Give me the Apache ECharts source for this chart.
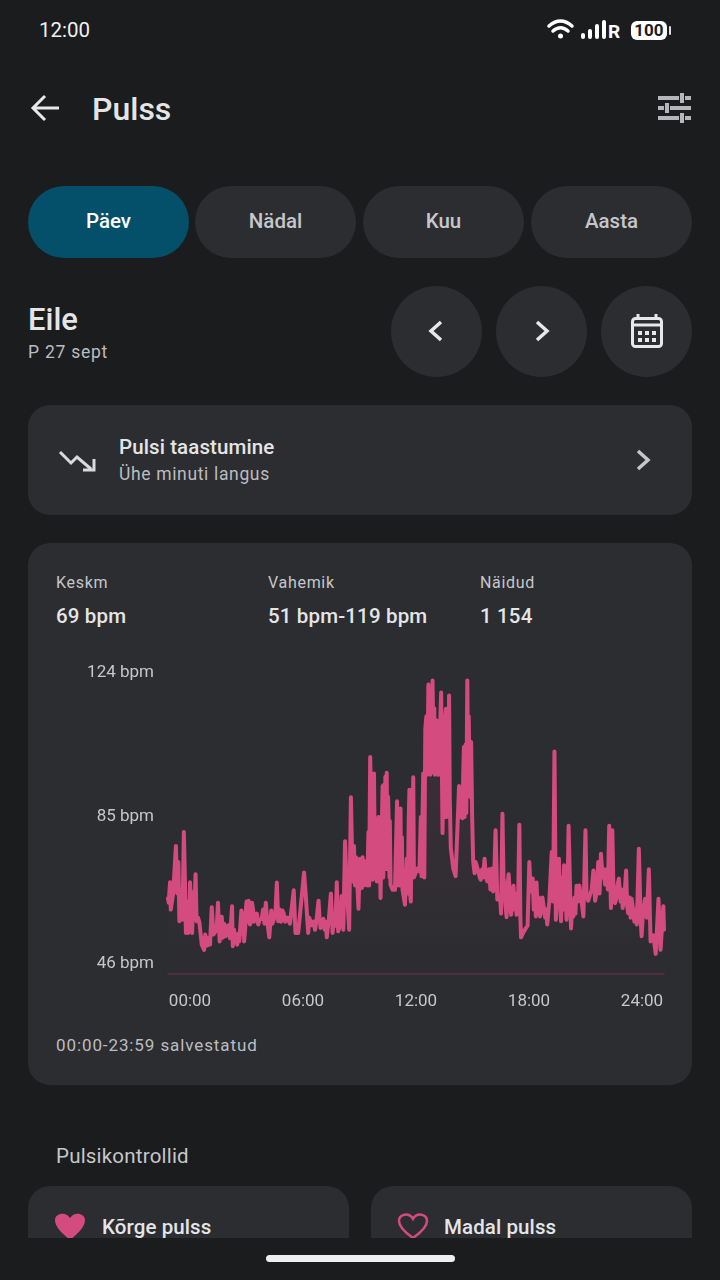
<!DOCTYPE html>
<html>
<head>
<meta charset="utf-8">
<title>Pulss</title>
<script src="https://cdn.jsdelivr.net/npm/echarts@6/dist/echarts.min.js"></script>
<style>
html,body{margin:0;padding:0;background:#1b1c1e;}
#page{position:relative;width:720px;height:1280px;overflow:hidden;background:#1b1c1e;font-family:Roboto,sans-serif;color:#e4e5e7;}
#page div.t{position:absolute;white-space:nowrap;line-height:1;transform:translateY(-50%);}
.box{position:absolute;background:#2c2d31;}
.m{font-weight:500;}
svg{position:absolute;overflow:visible;}
#chart{position:absolute;left:28px;top:640px;width:664px;height:385px;}
</style>
</head>
<body>
<div id="page">
  <div class="t" style="left:39px;top:30px;font-size:20.500px;color:#f0f0f0">12:00</div>
  <svg style="left:0;top:0" width="720" height="60">
    <path d="M549 26 q11.500 -10 23 0 M553 31 q7.500 -6.500 15 0" fill="none" stroke="#fff" stroke-width="3.500" stroke-linecap="round"/>
    <circle cx="560.500" cy="36" r="2.500" fill="#fff"/>
    <g stroke="#fff" stroke-width="4" stroke-linecap="round"><line x1="583" y1="35" x2="583" y2="37"/><line x1="590" y1="31" x2="590" y2="37"/><line x1="597" y1="26" x2="597" y2="37"/><line x1="604" y1="22" x2="604" y2="37"/></g>
    <text x="608" y="38" font-size="19" font-weight="700" fill="#fff" font-family="Roboto">R</text>
    <rect x="631" y="21" width="36" height="19" rx="6" fill="#fff"/>
    <text x="649" y="36" text-anchor="middle" font-size="17" font-weight="700" fill="#1b1c1e" font-family="Roboto">100</text>
    <rect x="669" y="26" width="2" height="9" rx="1" fill="#ddd"/>
  </svg>

  <svg style="left:0;top:0" width="720" height="140">
    <path d="M59 108 H34 M45 96 L33 108 L45 120" fill="none" stroke="#e8e8ea" stroke-width="3"/>
    <g stroke="#b4b6ba" stroke-width="4" fill="none"><path d="M658 98 H679 M685 98 H691 M682 93 V103"/><path d="M658 108 H664 M670 108 H691 M667 103 V113"/><path d="M658 118 H679 M685 118 H691 M682 113 V123"/></g>
  </svg>
  <div class="t m" style="left:92px;top:108.500px;font-size:32px">Pulss</div>

  <div class="box" style="left:28px;top:186px;width:161px;height:72px;border-radius:36px;background:#044f69"></div>
  <div class="box" style="left:195px;top:186px;width:161px;height:72px;border-radius:36px"></div>
  <div class="box" style="left:363px;top:186px;width:161px;height:72px;border-radius:36px"></div>
  <div class="box" style="left:531px;top:186px;width:161px;height:72px;border-radius:36px"></div>
  <div class="t m" style="left:28px;width:161px;text-align:center;top:221px;font-size:20.500px;color:#fff">Päev</div>
  <div class="t m" style="left:195px;width:161px;text-align:center;top:221px;font-size:20.500px;color:#c6c7ca">Nädal</div>
  <div class="t m" style="left:363px;width:161px;text-align:center;top:221px;font-size:20.500px;color:#c6c7ca">Kuu</div>
  <div class="t m" style="left:531px;width:161px;text-align:center;top:221px;font-size:20.500px;color:#c6c7ca">Aasta</div>

  <div class="t m" style="left:28px;top:319px;font-size:31px">Eile</div>
  <div class="t" style="left:28px;top:352.500px;font-size:17.500px;letter-spacing:.75px;color:#bcbdc0">P 27 sept</div>

  <div class="box" style="left:391px;top:286px;width:91px;height:91px;border-radius:50%"></div>
  <div class="box" style="left:496px;top:286px;width:91px;height:91px;border-radius:50%"></div>
  <div class="box" style="left:601px;top:286px;width:91px;height:91px;border-radius:50%"></div>
  <svg style="left:0;top:0" width="720" height="400">
    <path d="M441 322 L431 331 L441 340" fill="none" stroke="#e8e8ea" stroke-width="3.500"/>
    <path d="M537 322 L547 331 L537 340" fill="none" stroke="#e8e8ea" stroke-width="3.500"/>
    <rect x="632.500" y="318.500" width="29" height="28" rx="3" fill="none" stroke="#e8e8ea" stroke-width="3"/>
    <path d="M632 325 H662" stroke="#e8e8ea" stroke-width="3"/>
    <path d="M638 314 V319 M656 314 V319" stroke="#e8e8ea" stroke-width="3"/>
    <g fill="#e8e8ea"><rect x="638" y="331" width="4" height="4"/><rect x="645" y="331" width="4" height="4"/><rect x="652" y="331" width="4" height="4"/><rect x="638" y="338" width="4" height="4"/><rect x="645" y="338" width="4" height="4"/><rect x="652" y="338" width="4" height="4"/></g>
  </svg>

  <div class="box" style="left:28px;top:405px;width:664px;height:110px;border-radius:22px"></div>
  <svg style="left:0;top:0" width="720" height="520">
    <path d="M60 452 L71 463 L77 457 L91 469 M94 459 V470 H83" fill="none" stroke="#d9dadc" stroke-width="3"/>
    <path d="M638 451 L648 460 L638 469" fill="none" stroke="#c6c7ca" stroke-width="3.500"/>
  </svg>
  <div class="t m" style="left:119px;top:447px;font-size:20.500px;letter-spacing:.1px">Pulsi taastumine</div>
  <div class="t" style="left:119px;top:474.500px;font-size:17.500px;letter-spacing:.65px;color:#bcbdc0">Ühe minuti langus</div>

  <div class="box" style="left:28px;top:543px;width:664px;height:542px;border-radius:22px"></div>
  <div class="t" style="left:56px;top:582.500px;font-size:16px;letter-spacing:.7px;color:#c6c7ca">Keskm</div>
  <div class="t" style="left:268px;top:582.500px;font-size:16px;letter-spacing:.7px;color:#c6c7ca">Vahemik</div>
  <div class="t" style="left:480px;top:582.500px;font-size:16px;letter-spacing:.7px;color:#c6c7ca">Näidud</div>
  <div class="t m" style="left:56px;top:616px;font-size:20.500px;letter-spacing:.15px">69 bpm</div>
  <div class="t m" style="left:268px;top:616px;font-size:20.500px;letter-spacing:.15px">51 bpm-119 bpm</div>
  <div class="t m" style="left:480px;top:616px;font-size:20.500px;letter-spacing:.15px">1 154</div>
  <div id="chart"></div>
  <div class="t" style="left:56px;top:1045px;font-size:17px;letter-spacing:.9px;color:#bcbdc0">00:00-23:59 salvestatud</div>

  <div class="t" style="left:56px;top:1156px;font-size:20.500px;letter-spacing:.2px;color:#c6c7ca">Pulsikontrollid</div>
  <div class="box" style="left:28px;top:1186px;width:321px;height:52px;border-radius:22px 22px 0 0"></div>
  <div class="box" style="left:371px;top:1186px;width:321px;height:52px;border-radius:22px 22px 0 0"></div>
  <div class="t m" style="left:102px;top:1227px;font-size:20.500px;letter-spacing:.1px">Kõrge pulss</div>
  <div class="t m" style="left:444px;top:1227px;font-size:20.500px;letter-spacing:.1px">Madal pulss</div>
  <svg style="left:0;top:0;width:720px;height:1238px;clip-path:inset(0 0 0 0)" width="720" height="1238">
    <path d="M70 1240 C60 1232 55 1226 55 1220 C55 1213 66 1211 70 1218 C74 1211 85 1213 85 1220 C85 1226 80 1232 70 1240Z" fill="#d44b80"/>
    <path d="M413 1238 C403 1231 399 1226 399 1221 C399 1214 409 1212 413 1219 C417 1212 427 1214 427 1221 C427 1226 423 1231 413 1238Z" fill="none" stroke="#d44b80" stroke-width="2.500"/>
  </svg>
  <div class="box" style="left:266px;top:1255px;width:189px;height:7px;border-radius:4px;background:#eeeff1"></div>
</div>

<script>
var pulseMinutes=[0,2,6,8,15,23,27,30,33,36,40,42,46,49,52,55,59,62,64,70,74,77,80,83,87,91,98,105,108,112,114,118,122,127,132,137,142,145,150,156,159,163,168,172,175,180,186,188,192,195,201,204,207,213,216,219,221,224,226,228,231,234,236,238,241,244,247,250,254,258,262,266,272,276,280,284,288,294,300,303,308,312,316,320,324,328,332,336,340,343,347,354,365,370,378,383,395,400,407,410,417,422,427,432,437,440,443,447,451,455,458,461,467,473,478,483,486,490,494,499,502,504,509,514,519,526,531,536,540,543,546,548,550,553,557,560,563,565,568,570,572,575,578,580,582,584,587,594,598,601,603,606,611,613,615,617,623,625,627,629,631,633,635,637,639,641,643,644,646,652,659,665,668,670,672,673,675,677,679,681,688,693,696,699,701,703,705,707,709,712,714,717,724,730,734,736,741,744,747,750,752,753,756,758,761,763,765,768,771,773,775,777,780,782,785,787,789,791,793,797,800,802,805,807,809,811,813,816,818,821,828,835,845,847,850,853,855,857,859,861,864,866,869,871,873,875,877,880,883,886,890,893,897,901,905,908,912,915,919,923,927,932,936,940,944,947,951,956,964,967,971,974,976,980,983,986,989,993,996,999,1003,1006,1009,1012,1016,1020,1023,1025,1032,1039,1044,1049,1053,1059,1062,1065,1068,1070,1073,1076,1080,1084,1087,1090,1095,1098,1101,1107,1114,1118,1122,1126,1130,1135,1138,1141,1145,1147,1150,1153,1157,1160,1163,1170,1173,1177,1180,1183,1186,1190,1194,1198,1202,1206,1212,1215,1220,1225,1230,1235,1240,1244,1249,1253,1257,1262,1265,1269,1273,1277,1281,1284,1286,1290,1293,1298,1302,1305,1309,1314,1317,1320,1325,1330,1333,1336,1340,1343,1346,1350,1354,1358,1361,1367,1372,1375,1378,1381,1385,1390,1393,1396,1401,1409,1416,1424,1430,1438,1440];
var pulseBpm=[64.8,63.7,68.8,62,66,77.8,66,73.8,59.1,62,67.2,59.5,81.3,70,56.2,64,56.2,60,68.8,56.2,66.4,62,70.8,59.1,60,58.9,53.3,52,55.8,56,53.1,55,53.3,62.6,55.8,56.4,58,63.7,54.1,60.2,55,58.5,55.4,57,58.1,54.9,62.8,52.9,57,54.8,53.3,56,54.1,61.8,56,61,54.1,57,61.8,64,59,64.2,63,58.3,59,63.7,62,59,59.7,61,58.3,59.5,59.7,62,58.5,63.7,59.1,55.1,61.8,58.5,59.7,61,68.7,59.1,62,59,61.8,61,59,59.1,60,58.5,66.8,56.2,56.2,60.6,71.2,65.5,56.2,60,58.1,59,57,60,64.2,60,57.4,59,59.7,57,59,55.1,59.7,66,56.2,61,58,68.8,56.6,58,62,65.4,57,79,67.4,57,89.9,69,77.8,68,75,73,68,62.2,74.6,68,67.4,75,68,74,69.8,74,68,74,81.3,68,99.9,69.4,95.8,70,78,69,85,72,80,64.9,92.7,70,93,72,95,75,96,72,90,82.9,70,84,68.2,66.9,66.9,88.9,68,85,77.1,68,87.1,68,80,66.9,63.2,74.6,66,85,91.8,66,64,82,70,94.9,70,69.8,72.2,71.5,85,70.3,95.8,70,106.9,110,95.5,96,117.9,100,95.5,112,96,118.9,100,112,95.5,108,109,96,95.5,105,96,110,115.9,81,100,85,110,111.9,85,96,90,115.2,90,77.3,72.3,70.3,92.7,85,84.7,92,84.7,95,102.4,85,103,86,118.9,98,110,98.6,90,103.6,85,74,71,73.8,74,71.5,70,69.4,72,70,74.6,70,69,72,67,72.2,66.5,70,81.7,64.5,65.5,61,85.8,70,68.2,63,60.1,68,70.8,65,60.7,61,67.9,62,66,60.7,62,83.1,60,55.1,56.4,57.4,58,73.8,66.5,69.7,62,66,60.3,68.7,62,65,60.3,62,65,64.9,60,62,58.3,64,76.3,64,101.3,59.5,65,74.6,66,59.1,70,62,73,70,59.5,66,82.8,57.3,62,60.3,65,61,67.9,64,68,68.1,63,60.3,81.7,66,64.2,64,67,71.7,64.2,66,73.8,66,75.9,70,72,68.2,72,67,82.8,70,62.4,81.7,68,63.6,65,68,69.7,64,67,62.4,65,71.7,63,61.1,65,60,64.7,62,59,62,58.3,77.1,60,55.4,60,62,64.7,60,66,72,54.1,55.6,51,64.7,52,62.8,57];
var bpmTicks=[46,85,124];
var timeLabels=['00:00','06:00','12:00','18:00','24:00'];

var pulseData=[];
for(var i=0;i<pulseMinutes.length;i++){
	pulseData.push([pulseMinutes[i],pulseBpm[i]]);
}

// the app spreads the time labels evenly inside the plot, they do not sit on their real hours
var labelSlots=[];
for(var j=0;j<timeLabels.length;j++){
	labelSlots.push(1440*(22+j*113)/496);
}

var myChart=echarts.init(document.getElementById('chart'));
var option={
	animation:false,
	grid:{left:140,right:28,top:20,height:314},
	xAxis:{
		type:'value',
		min:0,
		max:1440,
		axisLine:{show:true,onZero:false,lineStyle:{color:'#5c2f45',width:1.5}},
		axisTick:{show:false},
		splitLine:{show:false},
		axisLabel:{
			customValues:labelSlots,
			margin:19,
			fontFamily:'Roboto',
			fontSize:17,
			color:'#c6c7ca',
			formatter:function(v){
				return timeLabels[labelSlots.indexOf(v)];
			}
		}
	},
	yAxis:{
		type:'value',
		min:bpmTicks[0],
		max:bpmTicks[2],
		interval:39,
		axisLine:{show:false},
		axisTick:{show:false},
		splitLine:{show:false},
		axisLabel:{
			margin:14,
			fontFamily:'Roboto',
			fontSize:17,
			lineHeight:20,
			padding:[3,0,0,0],
			color:'#c6c7ca',
			verticalAlignMinLabel:'bottom',
			verticalAlignMaxLabel:'top',
			formatter:'{value} bpm'
		}
	},
	series:[{
		type:'line',
		data:pulseData,
		showSymbol:false,
		sampling:'none',
		lineStyle:{color:'#d44b80',width:4,join:'round',cap:'round'},
		areaStyle:{
			color:new echarts.graphic.LinearGradient(0,0,0,1,[
				{offset:0,color:'rgba(212,75,128,0.16)'},
				{offset:1,color:'rgba(212,75,128,0)'}
			])
		}
	}]
};
myChart.setOption(option);
</script>
</body>
</html>
